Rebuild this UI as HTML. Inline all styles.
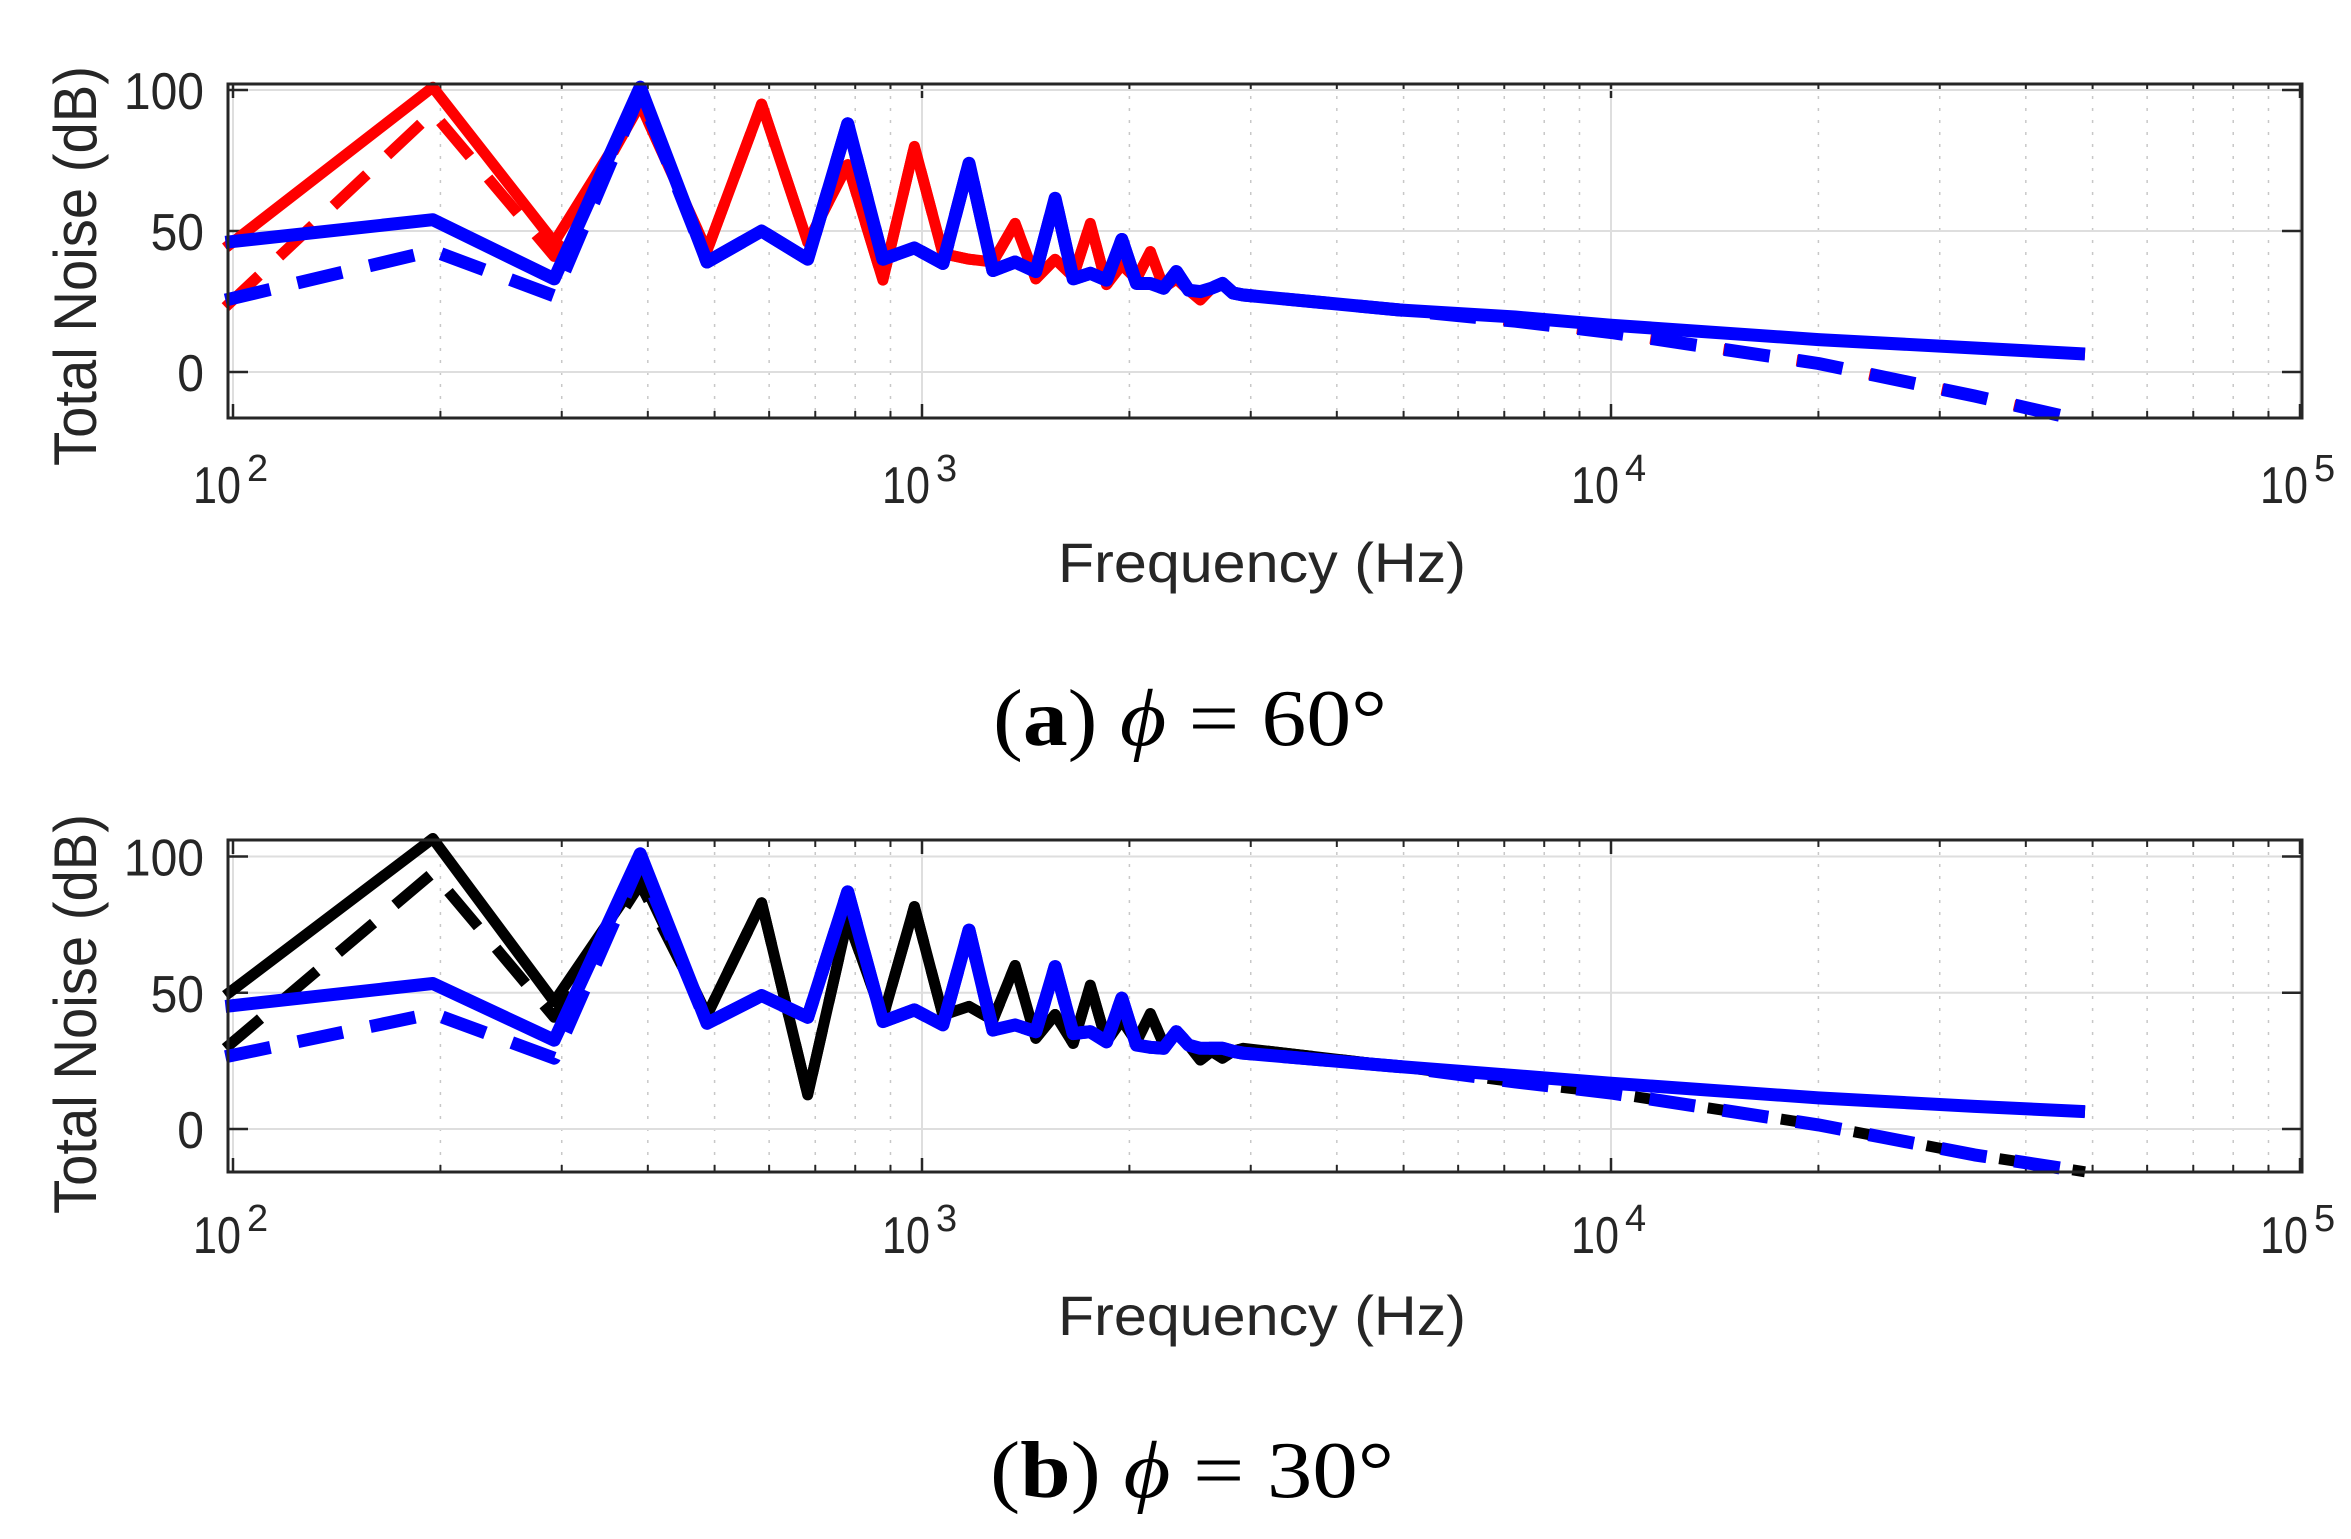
<!DOCTYPE html>
<html><head><meta charset="utf-8">
<style>
html,body{margin:0;padding:0;background:#fff;}
svg{display:block;}
text{font-family:"Liberation Sans",Arial,sans-serif;fill:#262626;}
.cap{font-family:"Liberation Serif","Times New Roman",serif;fill:#000;}
</style></head>
<body>
<svg id="fig" width="2351" height="1539" viewBox="0 0 2351 1539" xmlns="http://www.w3.org/2000/svg">
<g id="panelA"></g>
<g id="panelB"></g>
<text class="cap" x="993" y="745" font-size="80" textLength="394" lengthAdjust="spacingAndGlyphs">(<tspan font-weight="bold">a</tspan>) <tspan font-style="italic">ϕ</tspan> = 60°</text>
<text class="cap" x="990" y="1497" font-size="80" textLength="404" lengthAdjust="spacingAndGlyphs">(<tspan font-weight="bold">b</tspan>) <tspan font-style="italic">ϕ</tspan> = 30°</text>
</svg>
<script>
const freqs = [97.5,195,292.5,390,487.5,585,682.5,780,877.5,975,1072.5,1170,1267.5,1365,1462.5,1560,1657.5,1755,1852.5,1950,2047.5,2145,2242.5,2340,2437.5,2535,2632.5,2730,2827.5,2925,4940,7260,10000,20000,33700,48750];
const yTicks = [0,50,100];
const yTickLabels = ["0","50","100"];
const xDecades = [2,3,4,5];
const xTickLabels = ["10","10","10","10"];

const aRedSolid = [44,101,46,95,43,95,46,73.5,32.6,80,42,40,39,52.7,33,40,33.8,52.7,31,38,33,42.7,30,33,29,25.5,29.7,31,28,27.5,22,19.5,16.6,11.5,8.5,6.4];
const aRedDashed = [23,92,41,95,43,95,46,73.5,32.6,80,42,40,39,52.7,33,40,33.8,52.7,31,38,33,42.7,30,33,29,25.5,29.7,31,28,27.5,22,18,14,3,-8.5,-17.4];
const aBlueSolid = [46,54,33,101,39,50,40,88,40,44,38.5,74,36,39,35.6,61.6,33,35,32.6,47,31.4,31.4,29.7,35.6,29,28.5,29.7,31.4,28,27.3,22,19.5,16.6,11.5,8.5,6.4];
const aBlueDashed = [25.5,43,27,99,39,50,40,88,40,44,38.5,74,36,39,35.6,61.6,33,35,32.6,47,31.4,31.4,29.7,35.6,29,28.5,29.7,31.4,28,27.3,22,18,14,3,-8.5,-17.4];

const bBlackSolid = [49,106.6,46.7,93,41.8,83,12.5,77,41,81.6,41.8,45,40,60,33.3,42,31.4,52.8,32,40,32,42.4,31,35,30.8,25.3,28.5,26,28.5,29.6,22.9,19.6,16.8,11.4,8.3,6.4];
const bBlackDashed = [29.6,94,41,90,41.8,83,12.5,77,41,81.6,41.8,45,40,60,33.3,42,31.4,52.8,32,40,32,42.4,31,35,30.8,25.3,28.5,26,28.5,29.6,22.9,17.3,13.2,1.5,-9.5,-15.7];
const bBlueSolid = [45,53.4,32.6,101,38.8,49,41,87,39.4,43.7,38.2,73,36.3,38.2,35.7,59.6,35,35.7,32,48,30.8,30,29.6,35.7,30.8,29.6,29.6,29.6,28.5,27.8,22.9,19.6,16.8,11.4,8.3,6.4];
const bBlueDashed = [26.5,42.4,26,98,38.8,49,41,87,39.4,43.7,38.2,73,36.3,38.2,35.7,59.6,35,35.7,32,48,30.8,30,29.6,35.7,30.8,29.6,29.6,29.6,28.5,27.8,22.9,17.3,13.2,1.5,-9.5,-15.7];

const NS="http://www.w3.org/2000/svg";
function mk(tag, attrs, parent){const e=document.createElementNS(NS,tag);for(const k in attrs)e.setAttribute(k,attrs[k]);parent.appendChild(e);return e;}

function panel(g, cfg, series){
  const L=228,R=2302,T=cfg.top,B=cfg.bottom;
  const dec0=233, decW=689;
  const xs=f=>dec0+decW*(Math.log10(f)-2);
  const ys=v=>cfg.y0+(cfg.y100-cfg.y0)*v/100;
  for(let d=2; d<5; d++){
    for(let m=2;m<=9;m++){
      const x=xs(m*Math.pow(10,d));
      const l=mk('line',{x1:x,x2:x,y1:T,y2:B,stroke:'#c8c8c8','stroke-width':1.5,'stroke-dasharray':'3 9'},g);
      
      
      for(const [a,b] of [[B,B-7],[T,T+7]]){
        const t=mk('line',{x1:x,x2:x,y1:a,y2:b,stroke:'#262626','stroke-width':2},g);
        
        
      }
    }
  }
  xDecades.forEach((d,i)=>{
    const x=xs(Math.pow(10,d));
    const l=mk('line',{x1:x,x2:x,y1:T,y2:B,stroke:'#dedede','stroke-width':2},g);
    
    
    for(const [a,b] of [[B,B-14],[T,T+14]]){
      const t=mk('line',{x1:x,x2:x,y1:a,y2:b,stroke:'#262626','stroke-width':2.5},g);
      
      
    }
    const tx=mk('text',{x:x+8,y:cfg.xlabY,'font-size':52,'text-anchor':'end',textLength:48,lengthAdjust:'spacingAndGlyphs'},g);
    tx.textContent=xTickLabels[i];
    
    
    const sp=mk('text',{x:x+14,y:cfg.xlabY-22,'font-size':38},g);
    sp.textContent=String(d);
    
    
  });
  yTicks.forEach((v,i)=>{
    const y=ys(v);
    const l=mk('line',{x1:L,x2:R,y1:y,y2:y,stroke:'#dedede','stroke-width':2},g);
    
    
    for(const [a,b] of [[L,L+20],[R,R-20]]){
      const t=mk('line',{x1:a,x2:b,y1:y,y2:y,stroke:'#262626','stroke-width':2.5},g);
      
      
    }
    const tx=mk('text',{x:204,y:y+19,'font-size':52,'text-anchor':'end',textLength:yTickLabels[i].length*26.7,lengthAdjust:'spacingAndGlyphs'},g);
    tx.textContent=yTickLabels[i];
    
    
  });
  series.forEach(s=>{
    const pts=freqs.map((f,i)=>xs(f).toFixed(1)+','+ys(s.vals[i]).toFixed(1)).join(' ');
    const p=mk('polyline',{points:pts,fill:'none',stroke:s.color,'stroke-width':s.w,'stroke-linejoin':'round','stroke-linecap':'butt'},g);
    if(s.dash) p.setAttribute('stroke-dasharray','46 28');
    
    
  });
  const bx=mk('rect',{x:L,y:T,width:R-L,height:B-T,fill:'none',stroke:'#262626','stroke-width':3},g);
  
  
  const xl=mk('text',{x:1262,y:cfg.xTitleY,'font-size':56,'text-anchor':'middle',textLength:408,lengthAdjust:'spacingAndGlyphs'},g);
  xl.textContent='Frequency (Hz)';
  
  
  const yc=cfg.yTitleC;
  const yl=mk('text',{x:0,y:0,'font-size':60,'text-anchor':'middle',textLength:400,lengthAdjust:'spacingAndGlyphs',transform:`translate(96,${yc}) rotate(-90)`},g);
  yl.textContent='Total Noise (dB)';
  
  
}

panel(document.getElementById('panelA'),
  {id:'A',top:84,bottom:418,y0:372,y100:90,xlabY:503,xTitleY:582,yTitleC:266},
  [{vals:aRedSolid,color:'#ff0000',w:11,name:'red-solid-line'},
   {vals:aRedDashed,color:'#ff0000',w:11,dash:true,name:'red-dashed-line'},
   {vals:aBlueSolid,color:'#0000ff',w:13,name:'blue-solid-line'},
   {vals:aBlueDashed,color:'#0000ff',w:13,dash:true,name:'blue-dashed-line'}]);
panel(document.getElementById('panelB'),
  {id:'B',top:840,bottom:1172,y0:1129,y100:856.5,xlabY:1253,xTitleY:1335,yTitleC:1014},
  [{vals:bBlackSolid,color:'#000000',w:11,name:'black-solid-line'},
   {vals:bBlackDashed,color:'#000000',w:11,dash:true,name:'black-dashed-line'},
   {vals:bBlueSolid,color:'#0000ff',w:13,name:'blue-solid-line'},
   {vals:bBlueDashed,color:'#0000ff',w:13,dash:true,name:'blue-dashed-line'}]);
</script>
</body></html>
